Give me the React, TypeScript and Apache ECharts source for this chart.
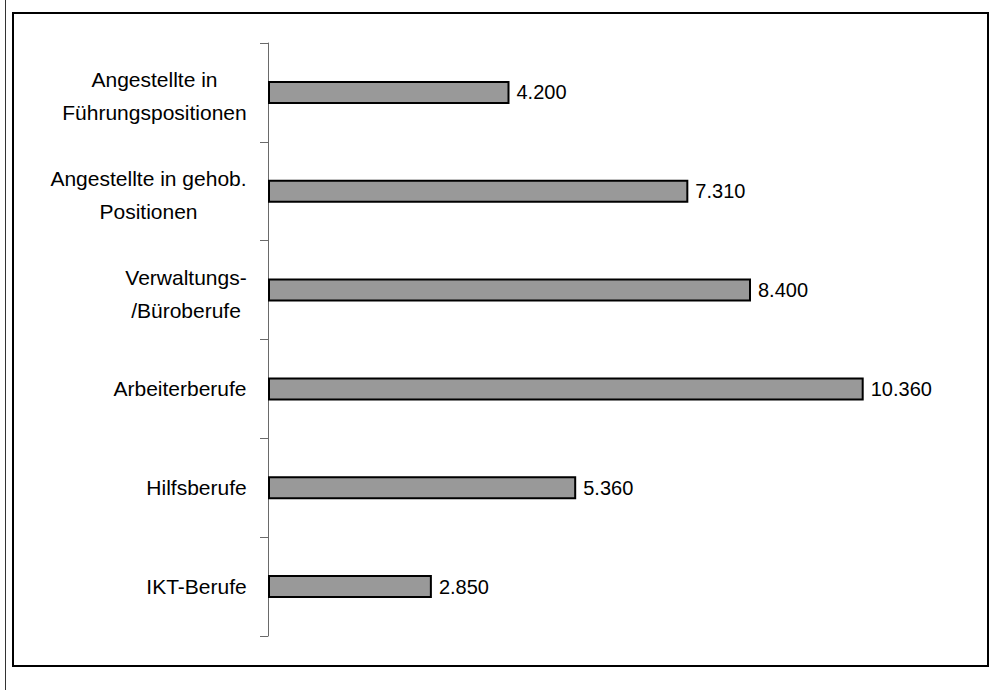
import React, { useEffect, useRef } from "react";
import * as echarts from "echarts";

// Berufsgruppen (top to bottom) and their counts
const categories: string[] = [
  "Angestellte in\nFührungspositionen",
  "Angestellte in gehob.\nPositionen",
  "Verwaltungs-\n/Büroberufe",
  "Arbeiterberufe",
  "Hilfsberufe",
  "IKT-Berufe",
];
const values: number[] = [4200, 7310, 8400, 10360, 5360, 2850];

const FONT = "Liberation Sans, Arial, sans-serif";
const CAT_FONT_SIZE = 21;

// German thousands separator: 10360 -> "10.360"
const formatDe = (v: number) =>
  String(Math.round(v)).replace(/\B(?=(\d{3})+(?!\d))/g, ".");

function measure(text: string, size: number): number {
  const c = document.createElement("canvas");
  const ctx = c.getContext("2d");
  if (!ctx) return text.length * size * 0.55;
  ctx.font = `${size}px ${FONT}`;
  return ctx.measureText(text).width;
}

export default function App() {
  const ref = useRef<HTMLDivElement>(null);

  useEffect(() => {
    if (!ref.current) return;
    const chart = echarts.init(ref.current, undefined, { renderer: "svg" });

    // each multi-line category label is centred within its own widest line
    const rich: Record<string, any> = {
      sp: { fontSize: 1, lineHeight: 7, width: 1 },
    };
    categories.forEach((c, i) => {
      const w = Math.max(...c.split("\n").map((l) => measure(l, CAT_FONT_SIZE)));
      rich["l" + i] = {
        width: Math.ceil(w),
        align: "center",
        fontSize: CAT_FONT_SIZE,
        fontFamily: FONT,
        color: "#000",
        lineHeight: 33,
      };
    });

    chart.setOption({
      animation: false,
      backgroundColor: "#fff",
      grid: { left: 268, right: 33, top: 43, bottom: 54, containLabel: false },
      xAxis: {
        type: "value",
        min: 0,
        max: 12000,
        show: false,
      },
      yAxis: {
        type: "category",
        inverse: true,
        data: categories,
        axisLine: { show: true, lineStyle: { color: "#6a6a6a", width: 1 } },
        axisTick: { show: true, length: 8, inside: false, lineStyle: { color: "#6a6a6a", width: 1 } },
        splitLine: { show: false },
        axisLabel: {
          margin: 21,
          align: "right",
          formatter: (value: string, index: number) => {
            const lines = value.split("\n").map((l) => `{l${index}|${l}}`);
            // two-line labels sit a little lower than the band centre
            return (lines.length > 1 ? ["{sp| }", ...lines] : lines).join("\n");
          },
          rich,
        },
      },
      series: [
        {
          type: "bar",
          data: values,
          barWidth: 23,
          itemStyle: { color: "#999999", borderColor: "#000", borderWidth: 2 },
          label: {
            show: true,
            position: "right",
            distance: 7,
            color: "#000",
            fontSize: 20,
            fontFamily: FONT,
            formatter: (p: any) => formatDe(p.value),
          },
        },
      ],
      graphic: [
        {
          type: "line",
          shape: { x1: 5.5, y1: 0, x2: 5.5, y2: 690 },
          style: { stroke: "#333", lineWidth: 1 },
          silent: true,
        },
        {
          type: "rect",
          shape: { x: 13, y: 13, width: 975, height: 653 },
          style: { fill: "none", stroke: "#000", lineWidth: 2 },
          silent: true,
        },
      ],
    });

    return () => chart.dispose();
  }, []);

  return (
    <div
      ref={ref}
      style={{ position: "fixed", left: 0, top: 0, width: 991, height: 690 }}
    />
  );
}
